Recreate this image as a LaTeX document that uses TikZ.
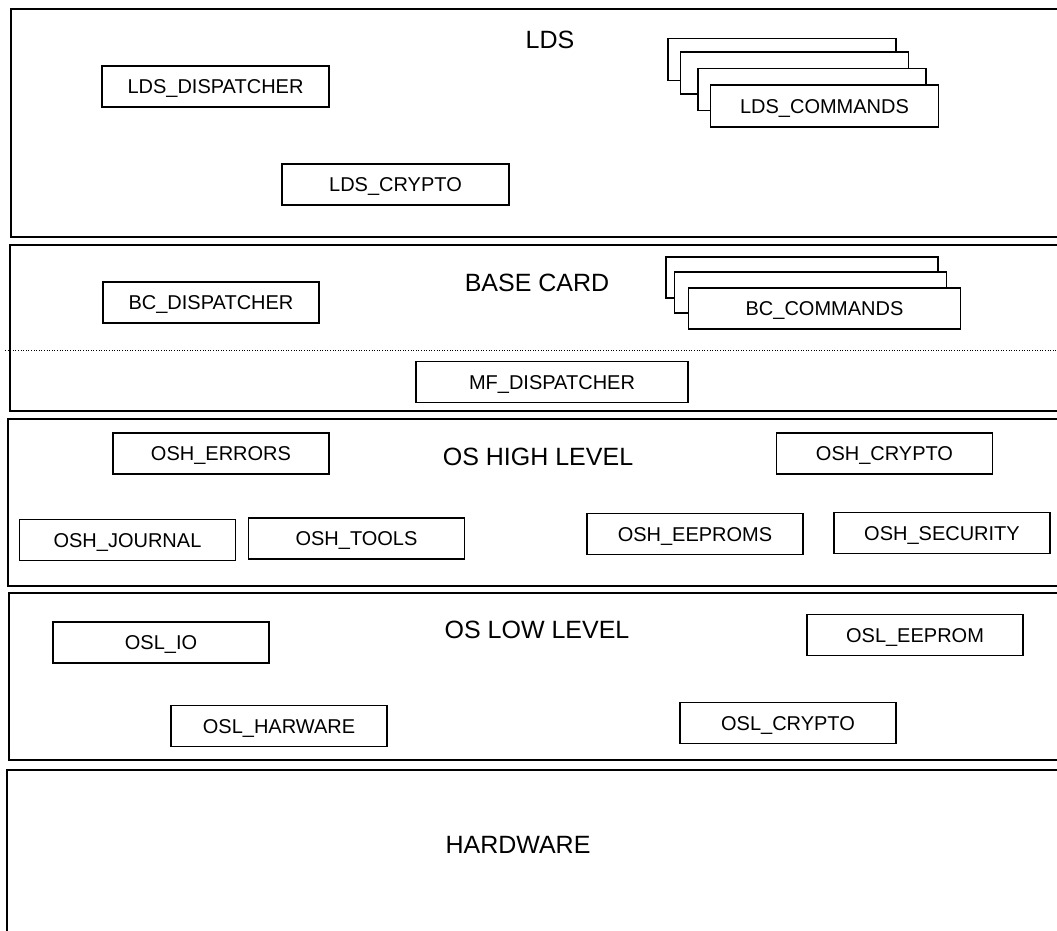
\documentclass[tikz,border=0pt]{standalone}
\usepackage{fontspec}
\setmainfont{Liberation Sans}
\begin{document}
\begin{tikzpicture}[x=1pt,y=-1pt,
  layer/.style={draw=black,line width=1.4pt},
  layerlabel/.style={font=\fontsize{25}{29}\selectfont,inner sep=0pt,text height=17.9pt,text depth=0pt},
  comp/.style={draw=black,line width=1.3pt,fill=white,minimum width=216pt,minimum height=41pt,inner sep=0pt,text height=14.3pt,text depth=0pt,font=\fontsize{20}{24}\selectfont},
  wide/.style={minimum width=272pt},
  stk/.style={minimum width=228pt,minimum height=42pt}]
\useasboundingbox (0,0) rectangle (1057,931);
\clip (0,0) rectangle (1057,931);
\fill[white] (0,0) rectangle (1057,931);
% layers
\draw[layer] (1075,9) -- (11,9) -- (11,237) -- (1075,237);
\draw[layer] (1075,245) -- (10,245) -- (10,411) -- (1075,411);
\draw[layer] (1075,419) -- (8,419) -- (8,586) -- (1075,586);
\draw[layer] (1075,593) -- (9,593) -- (9,760) -- (1075,760);
\draw[layer] (1075,770) -- (7,770) -- (7,945);
\draw[line width=0.8pt,dash pattern=on 1pt off 1.6pt] (5,350) -- (1057,350);
% labels
\node[layerlabel] (lds) at (550,40) {LDS};
\node[layerlabel] (bc) at (537,283) {BASE CARD};
\node[layerlabel] (osh) at (538,457) {OS HIGH LEVEL};
\node[layerlabel] (osl) at (537,630) {OS LOW LEVEL};
\node[layerlabel] (hw) at (518,845) {HARDWARE};
% LDS
\node[comp,minimum width=227pt] (ldsd) at (215.5,86.5) {LDS\_DISPATCHER};
\node[comp,minimum width=227pt] (ldsc) at (395.5,184.5) {LDS\_CRYPTO};
\node[comp,stk] (lc1) at (782,59.5) {};
\node[comp,stk] (lc2) at (794.5,73) {};
\node[comp,stk] (lc3) at (812,89.5) {};
\node[comp,stk] (lc4) at (824.5,106) {LDS\_COMMANDS};
% BASE CARD
\node[comp] (bcd) at (211,302.5) {BC\_DISPATCHER};
\node[comp,wide] (bb1) at (802,277.5) {};
\node[comp,wide] (bb2) at (810.5,292.5) {};
\node[comp,wide] (bb3) at (824.5,308.5) {BC\_COMMANDS};
\node[comp,wide] (mfd) at (552,382) {MF\_DISPATCHER};
% OS HIGH
\node[comp] (oshe) at (221,453.5) {OSH\_ERRORS};
\node[comp] (oshc) at (884.5,453.5) {OSH\_CRYPTO};
\node[comp] (oshj) at (127.5,540) {OSH\_JOURNAL};
\node[comp] (osht) at (356.5,538.5) {OSH\_TOOLS};
\node[comp] (oshee) at (695,534) {OSH\_EEPROMS};
\node[comp] (oshs) at (942,533) {OSH\_SECURITY};
% OS LOW
\node[comp] (osli) at (161,642.5) {OSL\_IO};
\node[comp] (osle) at (915,635) {OSL\_EEPROM};
\node[comp] (oslh) at (279,726) {OSL\_HARWARE};
\node[comp] (oslc) at (788,723) {OSL\_CRYPTO};
\end{tikzpicture}
\end{document}
